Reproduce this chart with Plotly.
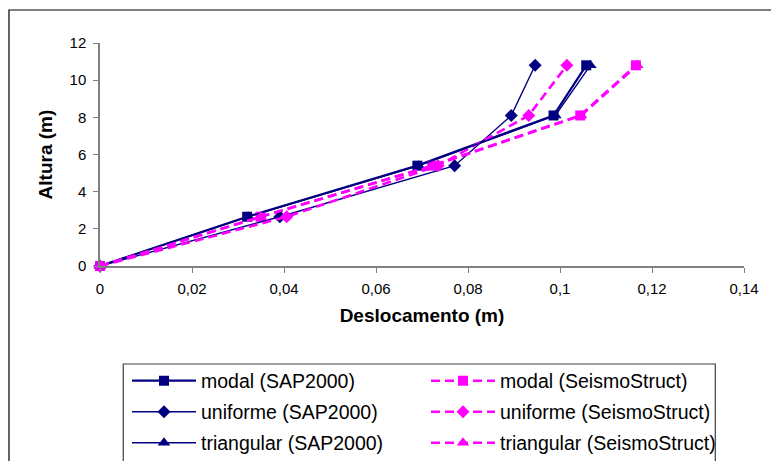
import plotly.graph_objects as go

# Storey heights (m)
alturas = [0, 2.65, 5.4, 8.1, 10.8]

# Lateral displacement (m) per load pattern and program
modal_sap = [0, 0.0320, 0.0690, 0.0986, 0.1057]
uniforme_sap = [0, 0.0391, 0.0771, 0.0894, 0.0946]
triangular_sap = [0, 0.0322, 0.0693, 0.0990, 0.1066]
modal_seismo = [0, 0.0349, 0.0722, 0.1044, 0.1165]
uniforme_seismo = [0, 0.0406, 0.0735, 0.0932, 0.1015]
triangular_seismo = [0, 0.0350, 0.0725, 0.1046, 0.1168]

x_ticks = [0, 0.02, 0.04, 0.06, 0.08, 0.10, 0.12, 0.14]
x_tick_labels = ["0", "0,02", "0,04", "0,06", "0,08", "0,1", "0,12", "0,14"]
y_ticks = [0, 2, 4, 6, 8, 10, 12]

NAVY = "#000080"
MAGENTA = "#FF00FF"
FONT = "Liberation Sans, Arial, sans-serif"

W, H = 771, 461
L, R, T, B = 100, 20, 43, 195
PW, PH = W - L - R, H - T - B

# each legend row holds the SAP2000 / SeismoStruct pair of one load pattern
series = [
    ("modal (SAP2000)", modal_sap, NAVY, "solid", 2.2, "square", 10, "legend"),
    ("modal (SeismoStruct)", modal_seismo, MAGENTA, "9px,5px", 2.6, "square", 10, "legend"),
    ("uniforme (SAP2000)", uniforme_sap, NAVY, "solid", 1.4, "diamond", 10, "legend2"),
    ("uniforme (SeismoStruct)", uniforme_seismo, MAGENTA, "9px,5px", 2.6, "diamond", 10, "legend2"),
    ("triangular (SAP2000)", triangular_sap, NAVY, "solid", 1.4, "triangle-up", 11, "legend3"),
    ("triangular (SeismoStruct)", triangular_seismo, MAGENTA, "9px,5px", 2.6, "triangle-up", 11, "legend3"),
]

fig = go.Figure()
for name, xs, color, dash, width, symbol, size, leg in series:
    fig.add_trace(go.Scatter(
        x=xs, y=alturas, name=name, mode="lines+markers",
        line=dict(color=color, width=width, dash=dash),
        marker=dict(symbol=symbol, size=size, color=color),
        cliponaxis=False, legend=leg,
    ))


def legend_row(center_px):
    return dict(
        orientation="h",
        xref="container", yref="container",
        x=127 / W, y=1 - center_px / H, xanchor="left", yanchor="middle",
        entrywidth=220, entrywidthmode="pixels",
        itemwidth=64,
        borderwidth=0, bgcolor="rgba(0,0,0,0)",
        font=dict(family=FONT, size=19.5, color="black"),
    )


def px_x(px):
    return (px - L) / PW


def px_y(py):
    return (H - B - py) / PH


fig.update_layout(
    width=W, height=H,
    margin=dict(l=L, r=R, t=T, b=B),
    paper_bgcolor="white", plot_bgcolor="white",
    font=dict(family=FONT, size=15, color="black"),
    showlegend=True,
    legend=legend_row(381),
    legend2=legend_row(412),
    legend3=legend_row(443),
    shapes=[
        # chart frame
        dict(type="rect", xref="paper", yref="paper",
             x0=px_x(8), x1=px_x(790), y0=px_y(480), y1=px_y(10),
             line=dict(color="black", width=1.2), layer="below"),
        # legend box
        dict(type="rect", xref="paper", yref="paper",
             x0=px_x(123.5), x1=px_x(722), y0=px_y(480), y1=px_y(364),
             line=dict(color="#404040", width=1.2), layer="below"),
    ],
)

fig.update_xaxes(
    range=[0, 0.14], tickvals=x_ticks, ticktext=x_tick_labels,
    showgrid=False, zeroline=False,
    showline=True, linecolor="#808080", linewidth=1.5,
    ticks="outside", ticklen=5, tickcolor="#808080",
    tickfont=dict(size=15), ticklabelstandoff=3,
    title=dict(text="<b>Deslocamento (m)</b>", font=dict(size=19), standoff=13),
)
fig.update_yaxes(
    range=[0, 12], tickvals=y_ticks,
    showgrid=False, zeroline=False,
    showline=True, linecolor="#808080", linewidth=1.5,
    ticks="outside", ticklen=5, tickcolor="#808080",
    tickfont=dict(size=15), ticklabelstandoff=4,
    title=dict(text="<b>Altura (m)</b>", font=dict(size=19), standoff=12),
)

fig.write_html("out.html")
